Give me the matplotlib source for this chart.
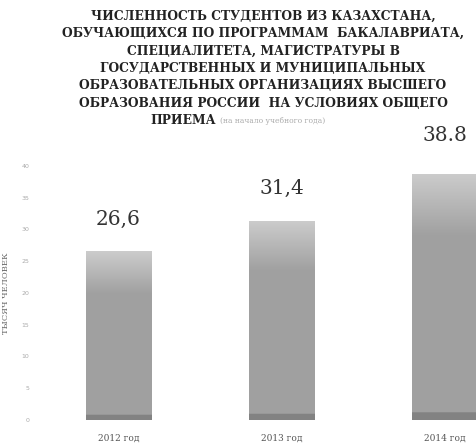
import matplotlib
matplotlib.use("Agg")
import matplotlib.pyplot as plt
import numpy as np

years = ["2012 год", "2013 год", "2014 год"]
values = [26.6, 31.4, 38.8]
value_labels = ["26,6", "31,4", "38.8"]
yticks = [0, 5, 10, 15, 20, 25, 30, 35, 40]

title_lines = [
    "ЧИСЛЕННОСТЬ СТУДЕНТОВ ИЗ КАЗАХСТАНА,",
    "ОБУЧАЮЩИХСЯ ПО ПРОГРАММАМ  БАКАЛАВРИАТА,",
    "СПЕЦИАЛИТЕТА, МАГИСТРАТУРЫ В",
    "ГОСУДАРСТВЕННЫХ И МУНИЦИПАЛЬНЫХ",
    "ОБРАЗОВАТЕЛЬНЫХ ОРГАНИЗАЦИЯХ ВЫСШЕГО",
    "ОБРАЗОВАНИЯ РОССИИ  НА УСЛОВИЯХ ОБЩЕГО",
]
title_last = "ПРИЕМА"
title_note = "(на начало учебного года)"
ylabel = "ТЫСЯЧ ЧЕЛОВЕК"

fig = plt.figure(figsize=(4.76, 4.45), dpi=100)
ax = fig.add_axes([35 / 476, 1 - 420 / 445, 1 - 35 / 476, (420 - 166) / 445])
x = np.arange(len(values))
bars = ax.bar(x, values, width=0.4, color="none", edgecolor="none")

# vertical gradient fill clipped to each bar (light top, darker bottom edge)
grad = np.linspace(0, 1, 256).reshape(-1, 1)
shade = 0.80 - 0.17 * np.clip(grad * 4, 0, 1) - 0.12 * (grad > 0.97)
for b in bars:
    x0, y0 = b.get_x(), b.get_y()
    w, h = b.get_width(), b.get_height()
    im = ax.imshow(np.dstack([shade] * 3),
                   extent=[x0, x0 + w, y0, y0 + h], aspect="auto", zorder=2,
                   interpolation="bilinear")
    im.set_clip_path(b)

label_offsets = [3.5, 3.5, 4.5]
for xi, v, lab, off in zip(x, values, value_labels, label_offsets):
    ax.text(xi, v + off, lab, ha="center", va="bottom", fontsize=14.5,
            family="DejaVu Serif", color="#333333", clip_on=False)

ax.set_xlim(-0.51, 2.19)
ax.set_ylim(0, 40)
ax.set_yticks(yticks)
ax.set_yticklabels([str(t) for t in yticks], fontsize=4.5, color="#aaaaaa")
ax.tick_params(axis="y", length=0, pad=4)
ax.set_xticks(x)
ax.set_xticklabels(years, fontsize=6.5, color="#555555", family="DejaVu Serif")
ax.tick_params(axis="x", length=0, pad=10)
for s in ax.spines.values():
    s.set_visible(False)
ax.set_ylabel(ylabel, fontsize=6, color="#666666", labelpad=8, family="DejaVu Serif")

# title
y0 = 1 - 16 / 445
dy = 17.5 / 445
for i, line in enumerate(title_lines):
    fig.text(263 / 476, y0 - i * dy, line, ha="center", va="center",
             fontsize=8.8, fontweight="bold", family="DejaVu Serif", color="#222222")
fig.text(150 / 476, y0 - 6 * dy, title_last, ha="left", va="center",
         fontsize=8.8, fontweight="bold", family="DejaVu Serif", color="#222222")
fig.text(220 / 476, y0 - 6 * dy, title_note, ha="left", va="center",
         fontsize=5.5, family="DejaVu Serif", color="#aaaaaa")

fig.savefig("out.png", dpi=100, facecolor="white")
